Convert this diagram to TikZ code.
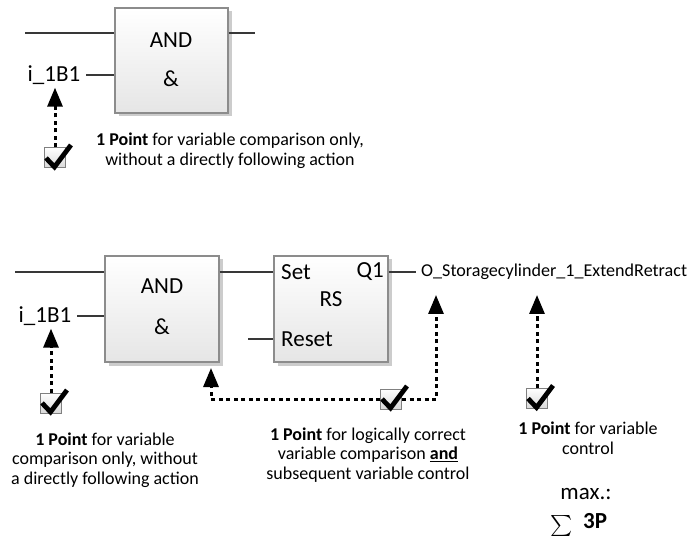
\documentclass[tikz,border=0pt]{standalone}
\usepackage{fontspec}
\setmainfont{Carlito}
\usetikzlibrary{arrows.meta,calc,shadows}

% font sizes used in the figure
\newcommand\lblfont{\fontsize{23}{27}\selectfont}
\newcommand\varfont{\fontsize{18.1}{22}\selectfont}
\newcommand\notefont{\fontsize{18}{19.5}\selectfont}

\begin{document}
\begin{tikzpicture}[x=1pt,y=-1pt,
  wire/.style={line width=2.7pt, draw=black!78},
  gate/.style={draw=black!45, line width=1.1pt, top color=white, bottom color=black!10,
    minimum width=113pt, minimum height=105pt, inner sep=0pt,
    drop shadow={shadow xshift=3.5pt, shadow yshift=-3.5pt, fill=black!20, opacity=1}},
  lbl/.style={font=\lblfont, inner sep=0pt},
  var/.style={font=\lblfont, inner xsep=6pt, inner ysep=3pt},
  note/.style={font=\notefont, align=center, inner sep=0pt},
  cbox/.style={draw=black!50, line width=1pt, top color=white, bottom color=black!15,
    minimum width=21pt, minimum height=20pt, inner sep=0pt},
  tick/.style={line width=4.8pt, draw=black, line join=miter},
  dotarrow/.style={line width=3pt, dash pattern=on 4pt off 3.5pt,
    -{Triangle[length=19pt,width=15pt]}}]

\useasboundingbox (0,0) rectangle (688,537);

% ---------------- upper network: AND only ----------------
\node[gate] (and1) at (171.5,60.5) {};
\node[lbl] (and1t) at (171,40) {AND};
\node[lbl] (and1a) at (171,78.5) {\&};
\node[var] (in1b) at (54,75) {i\_1B1};
\coordinate (in1a) at (25,33);
\coordinate (out1) at (255,33);
\draw[wire] (in1a) -- (in1a -| and1.west);
\draw[wire] (out1 -| and1.east) -- (out1);
\draw[wire] (in1b.east) -- (in1b -| and1.west);

\node[cbox] (c1) at (55,158) {};
\draw[dotarrow] (c1.north) -- (c1.north |- in1b.south);
\draw[tick] (c1.center) ++(-9,0) -- ++(8.5,9) -- ++(16.5,-22);

\node[note] (n1) at (230,150.5) {\textbf{1 Point} for variable comparison only,\\without a directly following action};

% ---------------- lower network: AND feeding RS ----------------
\node[gate, minimum width=114pt, minimum height=106pt] (and2) at (162,309) {};
\node[gate, minimum width=114pt, minimum height=106pt] (rs) at (331,309) {};
\node[lbl] (and2t) at (162,286.5) {AND};
\node[lbl] (and2a) at (162,327) {\&};
\node[lbl, anchor=west] (set) at (281,272) {Set};
\node[lbl, anchor=east] (q1) at (384,272) {Q1};
\node[lbl] (rst) at (331,299) {RS};
\node[lbl, anchor=west] (reset) at (281,339) {Reset};
\node[var] (in2b) at (45,316) {i\_1B1};
\node[font=\varfont, anchor=west, inner sep=0pt] (outv) at (421,272) {O\_Storagecylinder\_1\_ExtendRetract};

\coordinate (in2a) at (15,272);
\coordinate (rsin) at (248,339);
\draw[wire] (in2a) -- (in2a -| and2.west);
\draw[wire] (in2a -| and2.east) -- (in2a -| rs.west);
\draw[wire] (rsin) -- (rsin -| rs.west);
\draw[wire] (in2b.east) -- (in2b -| and2.west);
\draw[wire, shorten >=5pt] (in2a -| rs.east) -- (outv.west);

% scoring marks
\coordinate (atip) at (211,368);
\coordinate (qtip) at (436,295);
\coordinate (vtip) at (537,295);
\node[cbox] (c2) at (51,403) {};
\node[cbox] (c3) at (391,399) {};
\node[cbox] (c4) at (537,398.5) {};

\draw[dotarrow] (c2.north) -- (c2.north |- in2b.south);
\draw[dotarrow] (c3.west) -| (atip);
\draw[dotarrow] (c3.east) -| (qtip);
\draw[dotarrow] (c4.north) -- (vtip);

\foreach \c in {c2,c3,c4}
  \draw[tick] (\c.center) ++(-9,0) -- ++(8.5,9) -- ++(16.5,-22);

\node[note] (n2) at (105,460) {\textbf{1 Point} for variable\\comparison only, without\\a directly following action};
\node[note] (n3) at (368,455) {\textbf{1 Point} for logically correct\\variable comparison \underline{\textbf{and}}\\subsequent variable control};
\node[note] (n4) at (588,438) {\textbf{1 Point} for variable\\control};

\node[lbl] (mx) at (586,494) {max.:};
\node[inner sep=0pt, scale=2.1] (sig) at (562,526) {$\sum$};
\node[lbl, anchor=west] (tot) at (583,521) {\textbf{3P}};
\end{tikzpicture}
\end{document}
